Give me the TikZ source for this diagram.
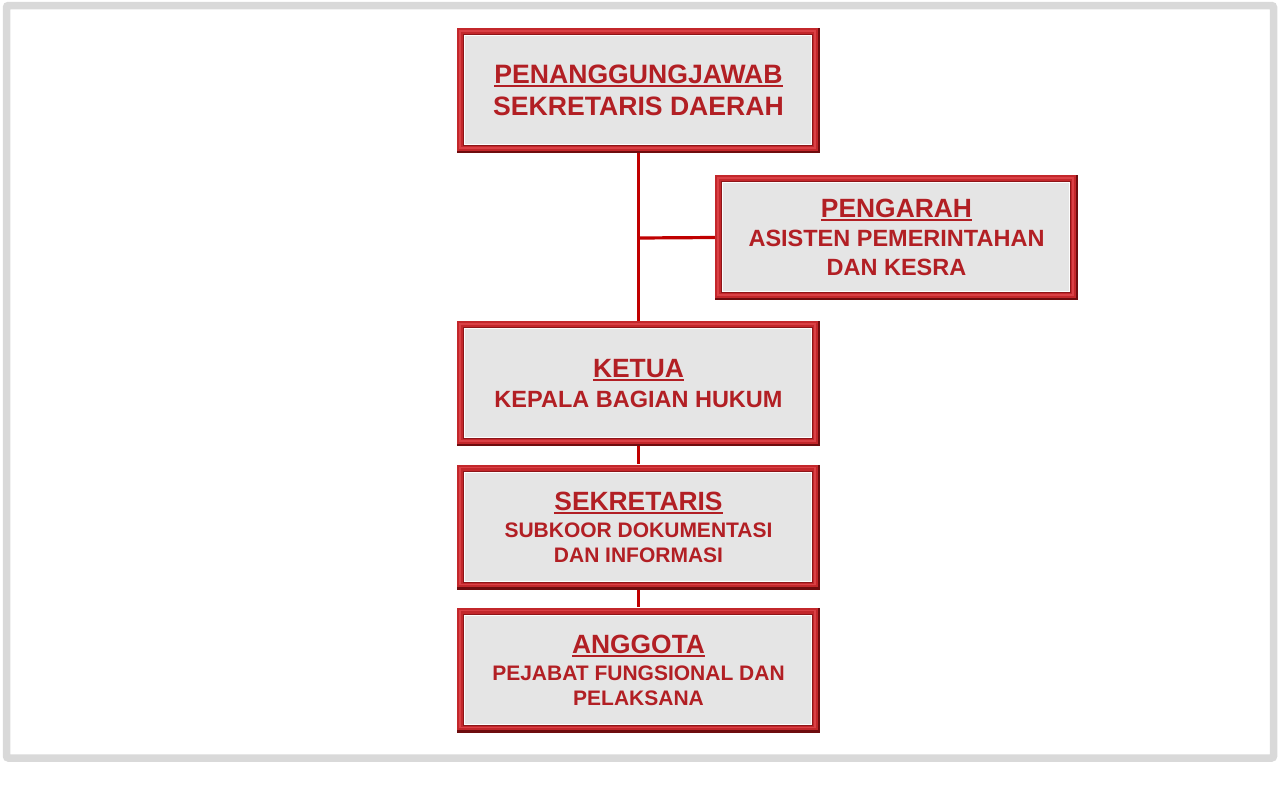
\documentclass[tikz,border=0pt]{standalone}
\usepackage{fontspec}
\setmainfont{Liberation Sans}
\usetikzlibrary{calc}
\definecolor{framegray}{HTML}{D9D9D9}
\definecolor{boxred}{HTML}{C3272B}
\definecolor{boxhi}{HTML}{DA4045}
\definecolor{boxdark}{HTML}{6E0C0E}
\definecolor{boxinner}{HTML}{8E1518}
\definecolor{boxfill}{HTML}{E5E5E5}
\definecolor{txtred}{HTML}{B21F24}
\definecolor{linkred}{HTML}{C00000}
\newcommand\myul[1]{\setbox0\hbox{#1}\rlap{\rule[-3.5pt]{\wd0}{2pt}}\box0}
\newcommand\ttl[1]{{\fontsize{26.4}{30}\selectfont\myul{#1}}}
\tikzset{
  orgbox/.style={rectangle, inner sep=0pt, minimum width=363pt, minimum height=125pt,
    align=center, text=txtred, font=\bfseries\fontsize{23.5}{29.5}\selectfont,
    path picture={
      \coordinate (nw) at (path picture bounding box.north west);
      \coordinate (se) at (path picture bounding box.south east);
      \fill[boxdark] (nw) rectangle (se);
      \fill[boxred] (nw) rectangle ($(se)+(-2.5pt,2.5pt)$);
      \draw[boxhi, line width=1.6pt] ($(nw)+(2.8pt,-2.8pt)$) rectangle ($(se)+(-5pt,5pt)$);
      \fill[boxinner] ($(nw)+(6pt,-6pt)$) rectangle ($(se)+(-7pt,7pt)$);
      \fill[white!92!boxfill] ($(nw)+(7pt,-7pt)$) rectangle ($(se)+(-8pt,8pt)$);
      \fill[boxfill] ($(nw)+(8.2pt,-8.2pt)$) rectangle ($(se)+(-9pt,9pt)$);
    }},
  link/.style={draw=linkred, line width=3.2pt}
}
\begin{document}
\begin{tikzpicture}[x=1pt,y=-1pt]
\useasboundingbox (0,0) rectangle (1279,795);
\draw[framegray, line width=7.5pt, rounded corners=2pt] (6.5,5.5) rectangle (1273.5,758);
\coordinate (j) at (639,238);
\node[orgbox, font=\bfseries\fontsize{26.6}{32}\selectfont] (pj) at (638.5,90.5)
  {\myul{PENANGGUNGJAWAB}\\SEKRETARIS DAERAH};
\node[orgbox] (pg) at (896.5,237.5)
  {\ttl{PENGARAH}\\ASISTEN PEMERINTAHAN\\[-0.5pt]DAN KESRA};
\node[orgbox] (kt) at (638.5,383.5)
  {\ttl{KETUA}\\KEPALA BAGIAN HUKUM};
\node[orgbox, font=\bfseries\fontsize{21}{26}\selectfont] (sk) at (638.5,527)
  {\ttl{SEKRETARIS}\\[1pt]SUBKOOR DOKUMENTASI\\[-1pt]DAN INFORMASI};
\node[orgbox, font=\bfseries\fontsize{21}{26}\selectfont] (ag) at (638.5,670)
  {\ttl{ANGGOTA}\\[1pt]PEJABAT FUNGSIONAL DAN\\[-1pt]PELAKSANA};
\draw[link] (pj.south) -- (kt.north);
\draw[link] (j) -- (pg.west);
\draw[link] (kt.south) -- (sk.north);
\draw[link] (sk.south) -- (ag.north);
\end{tikzpicture}
\end{document}
